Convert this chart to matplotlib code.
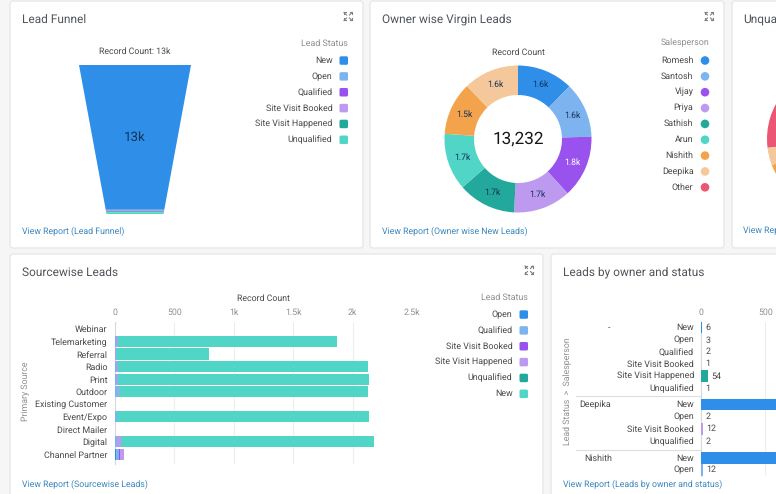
import math
import matplotlib
matplotlib.use("Agg")
import matplotlib.pyplot as plt
from matplotlib.patches import FancyBboxPatch, Circle, Polygon
from matplotlib.lines import Line2D

plt.rcParams['font.family'] = ['Roboto', 'DejaVu Sans']
plt.rcParams['text.hinting'] = 'no_hinting'

W, H = 776, 494

BLUE = '#2f8fe8'
LBLUE = '#7db4ef'
PURPLE = '#9a52ee'
LPURPLE = '#bd9aef'
TEAL = '#22a99b'
AQUA = '#50d5c7'
ORANGE = '#f2a34c'
PEACH = '#f5c89c'
PINK = '#ea5673'
DARK = '#4a4a48'
GREY = '#8f8f8f'
LINK = '#3a86bd'
TXT = 6.4
TICK = 6.3

# funnel
funnel_status = ['New', 'Open', 'Qualified', 'Site Visit Booked', 'Site Visit Happened', 'Unqualified']
funnel_counts = [12850, 12, 14, 110, 90, 156]
funnel_colors = [BLUE, LBLUE, PURPLE, LPURPLE, TEAL, AQUA]

# donut
owners = ['Romesh', 'Santosh', 'Vijay', 'Priya', 'Sathish', 'Arun', 'Nishith', 'Deepika', 'Other']
owner_counts = [1630, 1610, 1820, 1670, 1685, 1660, 1540, 1617, 0]
owner_labels = ['1.6k', '1.6k', '1.8k', '1.7k', '1.7k', '1.7k', '1.5k', '1.6k', '']
owner_colors = [BLUE, LBLUE, PURPLE, LPURPLE, TEAL, AQUA, ORANGE, PEACH, PINK]

# third card, cut off by the picture edge
unq_counts = [97, 14, 249]
unq_colors = [PINK, PEACH, ORANGE]

# sourcewise stacked bars
sources = ['Webinar', 'Telemarketing', 'Referral', 'Radio', 'Print', 'Outdoor',
           'Existing Customer', 'Event/Expo', 'Direct Mailer', 'Digital', 'Channel Partner']
src_status = ['Open', 'Qualified', 'Site Visit Booked', 'Site Visit Happened', 'Unqualified', 'New']
src_colors = [BLUE, LBLUE, PURPLE, LPURPLE, TEAL, AQUA]
src_open = [0, 2, 0, 3, 3, 4, 0, 2, 1, 4, 8]
src_qualified = [0, 16, 2, 14, 14, 18, 0, 14, 2, 10, 22]
src_booked = [0, 1, 0, 2, 2, 3, 0, 1, 0, 3, 8]
src_happened = [0, 6, 3, 3, 3, 6, 0, 4, 1, 30, 37]
src_unqualified = [0, 0, 0, 0, 0, 1, 0, 0, 0, 1, 0]
src_new = [0, 1843, 788, 2104, 2118, 2094, 0, 2113, 0, 2128, 0]
bar_ticks = [0, 500, 1000, 1500, 2000, 2500]
bar_ticklabels = ['0', '500', '1k', '1.5k', '2k', '2.5k']

# leads by owner and status
owner_rows = ['New', 'Open', 'Qualified', 'Site Visit Booked', 'Site Visit Happened', 'Unqualified',
              'New', 'Open', 'Site Visit Booked', 'Unqualified', 'New', 'Open']
owner_row_counts = [6, 3, 2, 1, 54, 1, 1600, 2, 12, 2, 1500, 12]
owner_row_colors = [BLUE, LBLUE, PURPLE, LPURPLE, TEAL, AQUA, BLUE, LBLUE, LPURPLE, AQUA, BLUE, LBLUE]
owner_row_y = [327.3, 340, 352, 364, 376, 388.5, 404.5, 417, 429, 441.5, 458, 470]

fig = plt.figure(figsize=(W / 100, H / 100), dpi=100, facecolor='#f6f6f6')
bg = fig.add_axes([0, 0, 1, 1])
bg.set_xlim(0, W)
bg.set_ylim(H, 0)
bg.axis('off')


def px_axes(x0, y0, x1, y1):
    # axes placed with pixel coordinates, y measured from the top
    ax = fig.add_axes([x0 / W, 1 - y1 / H, (x1 - x0) / W, (y1 - y0) / H])
    ax.patch.set_alpha(0)
    return ax


def card(x0, y0, x1, y1, title, link, tx):
    bg.add_patch(FancyBboxPatch((x0, y0), x1 - x0, y1 - y0, boxstyle='round,pad=0,rounding_size=3',
                                fc='white', ec='#e8e8e8', lw=1))
    bg.text(tx, y0 + 18.5, title, fontsize=8.6, color='#50555b', va='center')
    bg.text(tx, 231 if y0 < 100 else 484, link, fontsize=6.3, color=LINK, va='center')


def expand_icon(cx, cy):
    for sx in (-1, 1):
        for sy in (-1, 1):
            bg.add_line(Line2D([cx + sx * 4, cx + sx * 1.5], [cy + sy * 4, cy + sy * 1.5], color='#808080', lw=0.8))
            bg.add_line(Line2D([cx + sx * 4, cx + sx * 4, cx + sx * 2], [cy + sy * 2, cy + sy * 4, cy + sy * 4],
                               color='#808080', lw=0.8))


def legend(right, top, title, names, colors, marker='square'):
    bg.text(right, top, title, fontsize=TXT, color=GREY, ha='right', va='center')
    y = top + 17.5
    for name, c in zip(names, colors):
        bg.text(right - 15.5, y, name, fontsize=TXT, color=DARK, ha='right', va='center')
        if marker == 'square':
            bg.add_patch(FancyBboxPatch((right - 8.5, y - 4.2), 8.5, 8.5, boxstyle='round,pad=0,rounding_size=1.5',
                                        fc=c, ec='none'))
        else:
            bg.add_patch(Circle((right - 4, y), 4.3, fc=c, ec='none'))
        y += 15.85


card(10, 1, 363, 248, 'Lead Funnel', 'View Report (Lead Funnel)', 22)
card(370, 1, 724, 248, 'Owner wise Virgin Leads', 'View Report (Owner wise New Leads)', 382)
card(732, 1, 790, 248, 'Unqua', 'View Rep', 743)
card(10, 254, 543, 505, 'Sourcewise Leads', 'View Report (Sourcewise Leads)', 22)
card(551, 254, 800, 505, 'Leads by owner and status', 'View Report (Leads by owner and status)', 563)

expand_icon(348, 16.5)
expand_icon(709, 16.5)
expand_icon(529, 270)

# Lead funnel
ax = px_axes(60, 65, 210, 214)
total = sum(funnel_counts)
ax.set_xlim(-75, 75)
ax.set_ylim(total, 0)
ax.axis('off')
top_half, bottom_half = 56, 28.5
cum = 0
for n, c in zip(funnel_counts, funnel_colors):
    hw0 = top_half - (top_half - bottom_half) * cum / total
    hw1 = top_half - (top_half - bottom_half) * (cum + n) / total
    ax.add_patch(Polygon([(-hw0, cum), (hw0, cum), (hw1, cum + n), (-hw1, cum + n)], fc=c, ec='none'))
    cum += n
ax.text(0, total * 0.485, '13k', fontsize=9.6, color='#12355b', ha='center', va='center')
bg.text(135, 51.5, 'Record Count: 13k', fontsize=TICK, color=DARK, ha='center', va='center')
legend(348, 43, 'Lead Status', funnel_status, funnel_colors)

# Owner donut
ax = px_axes(438, 59, 598, 219)
ax.pie(owner_counts, colors=owner_colors, startangle=90, counterclock=False, radius=73.5,
       center=(0, 0), frame=False, wedgeprops=dict(width=29.5, linewidth=0))
ax.set_xlim(-80, 80)
ax.set_ylim(-80, 80)
ax.axis('off')
start = 0
for n, lab in zip(owner_counts, owner_labels):
    if lab:
        a = math.radians(start + n / sum(owner_counts) * 180)
        col = 'white' if lab == '1.8k' else '#16325c'
        ax.text(59 * math.sin(a), 59 * math.cos(a), lab, fontsize=6.2, color=col, ha='center', va='center')
    start += n / sum(owner_counts) * 360
ax.text(0, 0, '13,232', fontsize=12.3, color='#16161a', ha='center', va='center')
bg.text(518, 52, 'Record Count', fontsize=TICK, color=DARK, ha='center', va='center')
legend(709, 43, 'Salesperson', owners, owner_colors, marker='circle')

# Third card, only the left rim of the pie shows
ax = px_axes(760, 86, 776, 192)
ax.pie(unq_counts, colors=unq_colors, startangle=90, counterclock=True, radius=73, center=(840, 0),
       frame=False, wedgeprops=dict(width=30, linewidth=0))
ax.set_xlim(760, 776)
ax.set_ylim(-53, 53)
ax.axis('off')

# Sourcewise leads
ax = px_axes(115, 322, 412, 464)
ax.set_xlim(0, 2500)
ax.set_ylim(10.77, -0.56)
y = list(range(len(sources)))
left = [0] * len(sources)
series = [src_open, src_qualified, src_booked, src_happened, src_unqualified, src_new]
for vals, c in zip(series, src_colors):
    ax.barh(y, vals, left=left, height=0.9, color=c, linewidth=0, zorder=3)
    left = [a + b for a, b in zip(left, vals)]
ax.set_yticks(y)
ax.set_yticklabels(sources, fontsize=TXT, color=DARK)
ax.set_xticks(bar_ticks)
ax.set_xticklabels(bar_ticklabels, fontsize=TICK, color=GREY)
ax.xaxis.tick_top()
ax.tick_params(length=0, pad=3.5)
ax.tick_params(axis='y', pad=5.5)
ax.grid(axis='x', color='#eeeeee', lw=0.8, zorder=0)
for s in ['top', 'right', 'bottom']:
    ax.spines[s].set_visible(False)
ax.spines['left'].set_color('#d8d8d8')
bg.text(263, 298, 'Record Count', fontsize=TICK, color=DARK, ha='center', va='center')
bg.text(26, 391, 'Primary Source', fontsize=TICK, color=GREY, rotation=90, ha='center', va='center')
legend(528, 297, 'Lead Status', src_status, src_colors)

# Leads by owner and status
ax = px_axes(701, 322, 776, 476)
ax.set_xlim(0, 582)
ax.set_ylim(476, 322)
ax.barh(owner_row_y, owner_row_counts, height=11.5, color=owner_row_colors, linewidth=0, zorder=3)
for yy, n, name in zip(owner_row_y, owner_row_counts, owner_rows):
    bg.text(694, yy, name, fontsize=TXT, color=DARK, ha='right', va='center')
    if n < 582:
        ax.text(n + 30, yy, str(n), fontsize=TXT, color=DARK, va='center', zorder=4)
ax.set_yticks([])
ax.set_xticks([0, 500])
ax.set_xticklabels(['0', '500'], fontsize=TICK, color=GREY)
ax.xaxis.tick_top()
ax.tick_params(length=0, pad=3.5)
ax.grid(axis='x', color='#eeeeee', lw=0.8, zorder=0)
for s in ['top', 'right', 'bottom']:
    ax.spines[s].set_visible(False)
ax.spines['left'].set_color('#d8d8d8')
bg.text(609, 327.3, '-', fontsize=TXT, color=DARK, ha='center', va='center')
bg.text(579, 404.5, 'Deepika', fontsize=TXT, color=DARK, va='center')
bg.text(584, 458, 'Nishith', fontsize=TXT, color=DARK, va='center')
bg.add_line(Line2D([575.5, 700], [396, 396], color='#dddddd', lw=0.8))
bg.add_line(Line2D([575.5, 700], [450, 450], color='#dddddd', lw=0.8))
bg.text(568, 391, 'Lead Status  >  Salesperson', fontsize=TICK, color=GREY, rotation=90, ha='center', va='center')

fig.savefig('out.png', dpi=100, facecolor=fig.get_facecolor())
